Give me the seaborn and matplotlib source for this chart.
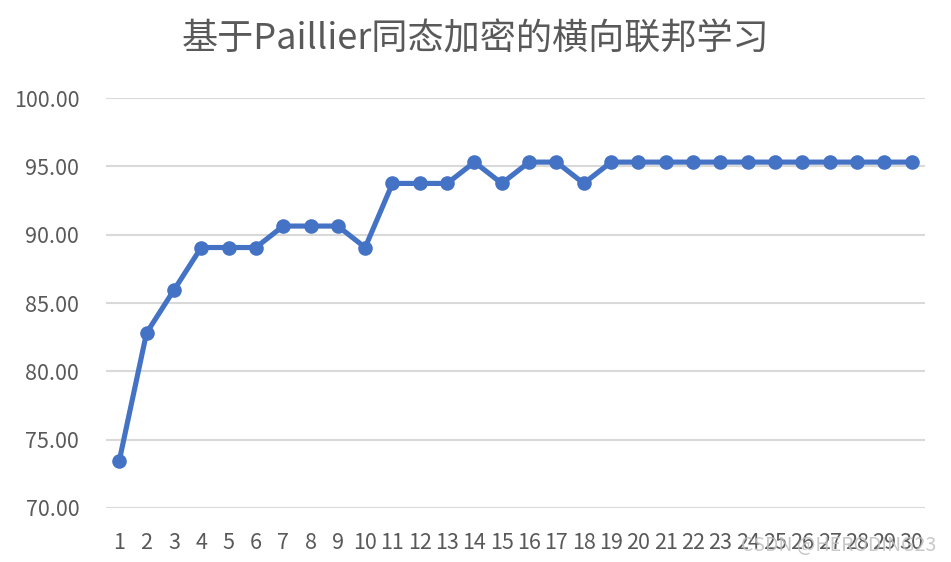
import numpy as np
import pandas as pd
import matplotlib
matplotlib.use('Agg')
import matplotlib.pyplot as plt
import seaborn as sns

# datos
rounds = list(range(1, 31))
accuracy = [73.44, 82.81, 85.94, 89.06, 89.06, 89.06, 90.63, 90.63, 90.63, 89.06,
            93.75, 93.75, 93.75, 95.31, 93.75, 95.31, 95.31, 93.75, 95.31, 95.31,
            95.31, 95.31, 95.31, 95.31, 95.31, 95.31, 95.31, 95.31, 95.31, 95.31]
y_ticks = [70, 75, 80, 85, 90, 95, 100]
title = '基于Paillier同态加密的横向联邦学习'

df = pd.DataFrame({'round': rounds, 'acc': accuracy})

sns.set_theme(style='white')
plt.rcParams['font.family'] = ['Noto Sans CJK SC', 'DejaVu Sans']

fig = plt.figure(figsize=(9.51, 5.62), dpi=100)
ax = fig.add_axes([0.111, 0.0961, 0.862, 0.7295])

sns.lineplot(data=df, x='round', y='acc', ax=ax, color='#4472C4', linewidth=3.7,
             marker='o', markersize=10.5, markeredgewidth=0, zorder=3)

ax.set_xlim(0.5, 30.5)
ax.set_ylim(70, 100)
ax.set_yticks(y_ticks)
ax.set_yticklabels([f'{v:.2f}' for v in y_ticks])
ax.set_xticks(rounds)
ax.set_xticklabels([str(r) for r in rounds])
ax.yaxis.grid(True, color='#D9D9D9', linewidth=1.5)
ax.xaxis.grid(False)
for s in ax.spines.values():
    s.set_visible(False)
ax.tick_params(axis='both', colors='#595959', labelsize=15.5, length=0)
ax.tick_params(axis='y', pad=19)
ax.tick_params(axis='x', pad=17)
ax.set_xlabel('')
ax.set_ylabel('')

fig.text(0.5, 0.93, title, ha='center', va='center', fontsize=26, color='#595959')
fig.text(0.984, 0.03, 'CSDN @HERODING23', ha='right', va='center', fontsize=14,
         color='#BFBFBF', alpha=0.85)

fig.savefig('out.png', dpi=100)
